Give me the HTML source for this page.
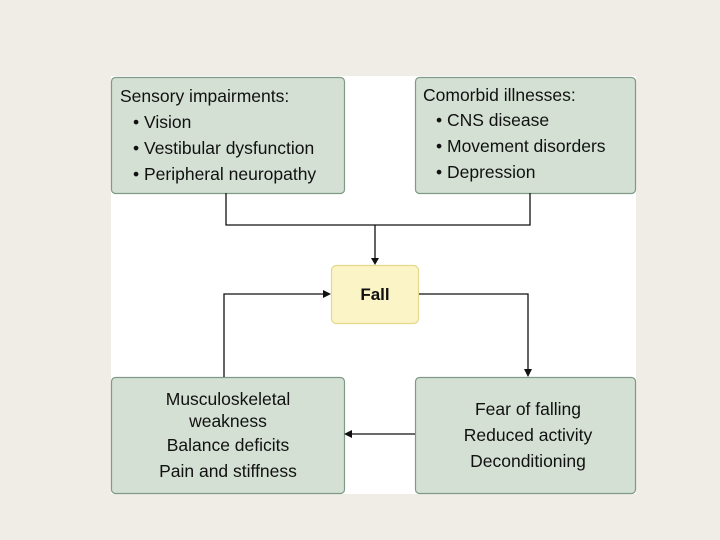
<!DOCTYPE html>
<html><head><style>
html,body{margin:0;padding:0;background:#efede6;}
svg{display:block}
text{font-family:"Liberation Sans",Arial,sans-serif;fill:#111;}
</style></head><body>
<svg width="720" height="540" viewBox="0 0 720 540" xmlns="http://www.w3.org/2000/svg">
<rect x="0" y="0" width="720" height="540" fill="#efede6"/>
<rect x="111" y="76" width="525" height="418" fill="#ffffff"/>
<g fill="#d4e0d3" stroke="#7f9a86" stroke-width="1.2">
<rect x="111.5" y="77.5" width="233" height="116" rx="4"/>
<rect x="415.5" y="77.5" width="220" height="116" rx="4"/>
<rect x="111.5" y="377.5" width="233" height="116" rx="4"/>
<rect x="415.5" y="377.5" width="220" height="116" rx="4"/>
</g>
<rect x="331.5" y="265.5" width="87" height="58" rx="5" fill="#fbf4c6" stroke="#e4d98c" stroke-width="1.2"/>
<g stroke="#111" stroke-width="1.3" fill="none">
<polyline points="226,193 226,225 530,225 530,193"/>
<line x1="375" y1="225" x2="375" y2="259"/>
<polyline points="419,294 528,294 528,370"/>
<line x1="415" y1="434" x2="351" y2="434"/>
<polyline points="224,377 224,294 324,294"/>
</g>
<g fill="#111">
<polygon points="371,258 379,258 375,265"/>
<polygon points="524,369 532,369 528,377"/>
<polygon points="352,430 352,438 344,434"/>
<polygon points="323,290 323,298 331,294"/>
</g>
<g font-size="17.5">
<text x="120" y="102">Sensory impairments:</text>
<text x="133" y="128">• Vision</text>
<text x="133" y="154">• Vestibular dysfunction</text>
<text x="133" y="180">• Peripheral neuropathy</text>
<text x="423" y="101">Comorbid illnesses:</text>
<text x="436" y="126">• CNS disease</text>
<text x="436" y="152">• Movement disorders</text>
<text x="436" y="178">• Depression</text>
<g text-anchor="middle">
<text x="228" y="405">Musculoskeletal</text>
<text x="228" y="427">weakness</text>
<text x="228" y="451">Balance deficits</text>
<text x="228" y="477">Pain and stiffness</text>
<text x="528" y="415">Fear of falling</text>
<text x="528" y="441">Reduced activity</text>
<text x="528" y="467">Deconditioning</text>
<text x="375" y="300" font-weight="bold" font-size="17">Fall</text>
</g>
</g>
</svg>
</body></html>
